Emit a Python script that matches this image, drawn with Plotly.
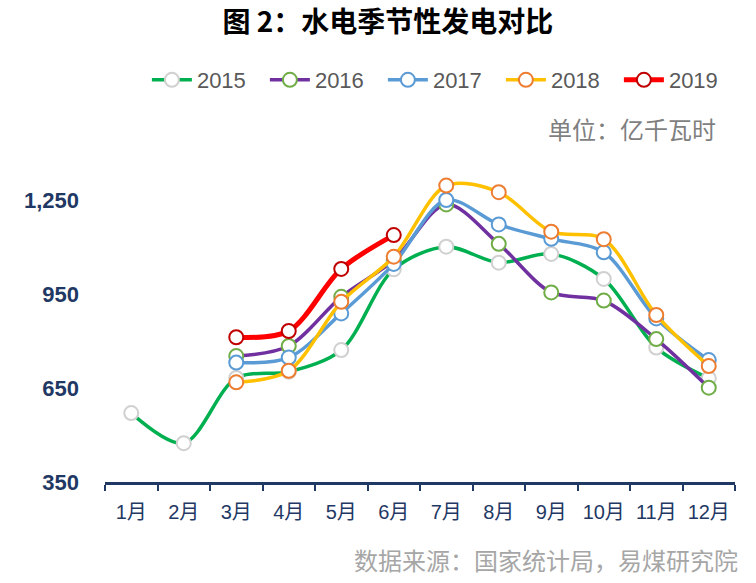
import plotly.graph_objects as go

months = ["1月", "2月", "3月", "4月", "5月", "6月", "7月", "8月", "9月", "10月", "11月", "12月"]
v2015 = [570, 474, 682, 702, 771, 1029, 1101, 1050, 1078, 998, 779, 681]
v2016 = [None, None, 752, 784, 941, 1058, 1236, 1110, 955, 929, 806, 651]
v2017 = [None, None, 731, 747, 888, 1046, 1250, 1172, 1126, 1083, 872, 739]
v2018 = [None, None, 668, 705, 925, 1069, 1296, 1275, 1149, 1125, 883, 720]
v2019 = [None, None, 812, 832, 1030, 1138, None, None, None, None, None, None]
y_ticks = [350, 650, 950, 1250]

series = [
    ("2015", v2015, "#00b050", "#d0d0d0", 3.5),
    ("2016", v2016, "#7030a0", "#70ad47", 3.5),
    ("2017", v2017, "#5b9bd5", "#5b9bd5", 3.5),
    ("2018", v2018, "#ffc000", "#ed7d31", 3.5),
    ("2019", v2019, "#ff0000", "#c00000", 5),
]

fig = go.Figure()
for name, vals, lc, mc, lw in series:
    fig.add_trace(go.Scatter(
        x=months, y=vals, name=name, mode="lines+markers",
        line=dict(color=lc, width=lw, shape="spline", smoothing=0.9),
        marker=dict(size=14, color="white", line=dict(color=mc, width=2)),
        connectgaps=False,
    ))

font_fam = "Liberation Sans, Noto Sans CJK SC, sans-serif"
navy = "#1f3864"

fig.update_layout(
    width=756, height=583,
    margin=dict(l=105, r=21, t=106, b=101),
    paper_bgcolor="white", plot_bgcolor="white",
    font=dict(family=font_fam),
    title=dict(text="<b>图 2：水电季节性发电对比</b>", x=0.513, xref="container", xanchor="center",
               y=1 - 22 / 583, yref="container", yanchor="middle",
               font=dict(size=28, color="black", family="Noto Sans CJK SC, sans-serif")),
    showlegend=True,
    legend=dict(orientation="h", x=1.003, xanchor="right", y=1.069, yanchor="middle",
                font=dict(size=22, color="#595959", family=font_fam),
                itemwidth=40, entrywidth=63, entrywidthmode="pixels",
                tracegroupgap=0, bgcolor="rgba(0,0,0,0)"),
    xaxis=dict(type="category", range=[-0.5, 11.5], showgrid=False, showline=True,
               linecolor=navy, linewidth=2.5,
               ticks="outside", tickson="boundaries", ticklen=6, tickwidth=2, tickcolor=navy,
               ticklabelstandoff=10,
               tickfont=dict(size=20, color=navy, family=font_fam), zeroline=False),
    yaxis=dict(range=[350, 1550], tickvals=y_ticks, tickformat=",", showgrid=False,
               showline=False, zeroline=False, ticks="", ticklabelstandoff=25,
               tickfont=dict(size=22, color=navy, family="Liberation Sans, sans-serif", weight="bold")),
    annotations=[
        dict(text="单位：亿千瓦时", x=0.973, y=0.941, xref="paper", yref="paper",
             xanchor="right", yanchor="middle", showarrow=False,
             font=dict(size=24, color="#7f7f7f", family="Noto Sans CJK SC, sans-serif")),
        dict(text="数据来源：国家统计局，易煤研究院", x=1.008, y=-0.207, xref="paper", yref="paper",
             xanchor="right", yanchor="middle", showarrow=False,
             font=dict(size=24, color="#a6a6a6", family="Noto Sans CJK SC, sans-serif")),
    ],
)

fig.write_html("out.html")
